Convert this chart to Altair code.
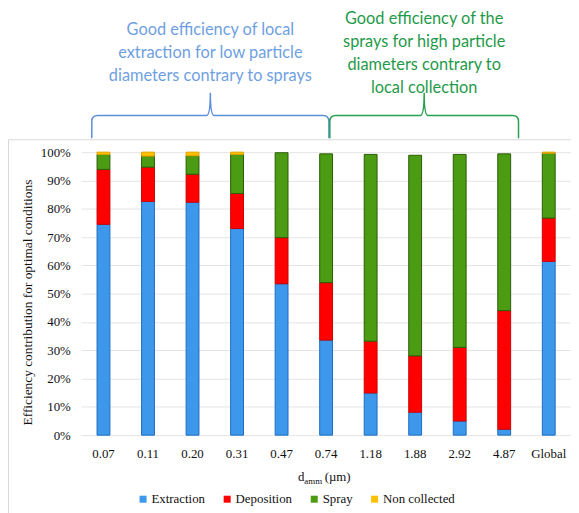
import altair as alt
import pandas as pd

# ---------------- data ----------------
categories = ["0.07", "0.11", "0.20", "0.31", "0.47", "0.74", "1.18", "1.88", "2.92", "4.87", "Global"]
extraction = [74.5, 82.6, 82.3, 73.0, 53.5, 33.6, 14.9, 8.1, 5.0, 2.1, 61.4]
deposition = [19.4, 12.1, 9.9, 12.4, 16.3, 20.3, 18.3, 19.9, 26.0, 41.9, 15.3]
spray = [5.3, 3.9, 6.5, 13.8, 30.0, 45.5, 66.0, 70.9, 68.2, 55.4, 22.9]
non_collected = [0.8, 1.4, 1.3, 0.8, 0.0, 0.0, 0.0, 0.0, 0.0, 0.0, 0.4]

series_names = ["Extraction", "Deposition", "Spray", "Non collected"]
y_ticks = [0, 10, 20, 30, 40, 50, 60, 70, 80, 90, 100]

annot_blue = ["Good efficiency of local", "extraction for low particle", "diameters contrary to sprays"]
annot_green = ["Good efficiency of the", "sprays for high particle", "diameters contrary to", "local collection"]

y_title = "Efficiency contribution for optimal conditions"

# ---------------- styles ----------------
fill_colors = ["#3d98eb", "#ff0000", "#4b9c12", "#ffc000"]
edge_colors = ["#1d6cc0", "#cc0000", "#2b5c08", "#e0a000"]
BLUE_TXT = "#6f9fe3"
BLUE_BR = "#5b8fdc"
GREEN_TXT = "#1f9a4a"
GREEN_BR = "#27a04f"
SERIF = "Liberation Serif"
SANS = "Lato"

rows = []
for i, c in enumerate(categories):
    for k, vals in enumerate([extraction, deposition, spray, non_collected]):
        if vals[i] > 0:
            rows.append({"d": c, "series": series_names[k], "ord": k, "value": vals[i]})
df = pd.DataFrame(rows)

one = alt.Data(values=[{"a": 1}])


def brace_path(width_px, drop=23.0, rise=23.0, r=6.0, tip=4.0):
    u = width_px / 2.0
    d, h, rr, t = drop / u, rise / u, r / u, tip / u
    f = lambda v: f"{v:.4f}"
    return (f"M -1 {f(d)} L -1 {f(rr)} Q -1 0 {f(-1 + rr)} 0 L {f(-t)} 0 "
            f"Q 0 0 0 {f(-h)} Q 0 0 {f(t)} 0 L {f(1 - rr)} 0 Q 1 0 1 {f(rr)} L 1 {f(d)}")


bars = alt.Chart(df).mark_bar(size=13, strokeWidth=1).encode(
    x=alt.X("d:N", sort=categories,
            scale=alt.Scale(paddingInner=0, paddingOuter=0),
            axis=alt.Axis(title=None, labelAngle=0, labelFont=SERIF, labelFontSize=13,
                          labelColor="#111111", labelPadding=13, ticks=False,
                          domain=False, grid=False)),
    y=alt.Y("value:Q", stack="zero",
            scale=alt.Scale(domain=[0, 100], nice=False),
            axis=alt.Axis(values=y_ticks, labelExpr="datum.value + '%'",
                          labelFont=SERIF, labelFontSize=13, labelColor="#111111",
                          labelPadding=11, ticks=False, domain=False,
                          grid=True, gridColor="#e4e4e4", gridWidth=1,
                          title=y_title, titleFont=SERIF, titleFontSize=13.5,
                          titleFontWeight="normal", titleColor="#111111",
                          titleX=-54, titleY=151.5, titleAngle=270,
                          titleAlign="center", titleBaseline="middle")),
    color=alt.Color("series:N",
                    scale=alt.Scale(domain=series_names, range=fill_colors),
                    legend=alt.Legend(title=None, orient="none", legendX=56, legendY=344,
                                      direction="horizontal", symbolType="square",
                                      symbolSize=50, labelFont=SERIF, labelFontSize=13,
                                      labelColor="#111111", columnPadding=15,
                                      labelOffset=2, symbolStrokeWidth=0)),
    stroke=alt.Stroke("series:N",
                      scale=alt.Scale(domain=series_names, range=edge_colors),
                      legend=None),
    order=alt.Order("ord:Q", sort="ascending"),
)

# chart-area border (top and left edges)
border_top = alt.Chart(one).mark_rule(color="#d9d9d9", strokeWidth=1).encode(
    x=alt.value(-73.5), x2=alt.value(500), y=alt.value(-12.5))
border_left = alt.Chart(one).mark_rule(color="#d9d9d9", strokeWidth=1).encode(
    x=alt.value(-73.5), y=alt.value(-12.5), y2=alt.value(370))

# annotations (y = centre of first line)
txt_blue = alt.Chart(one).mark_text(font=SANS, fontSize=16.5, lineHeight=23, align="center",
                                    baseline="middle", color=BLUE_TXT).encode(
    x=alt.value(130.5), y=alt.value(-123.3), text=alt.value(annot_blue))
txt_green = alt.Chart(one).mark_text(font=SANS, fontSize=16.5, lineHeight=23.3, align="center",
                                     baseline="middle", color=GREEN_TXT).encode(
    x=alt.value(346.6), y=alt.value(-134.4), text=alt.value(annot_green))

blue_w = 239.6
green_w = 190.7
brace_blue = alt.Chart(one).mark_point(shape=brace_path(blue_w), filled=False, size=blue_w ** 2,
                                       strokeWidth=1.5, color=BLUE_BR, opacity=1).encode(
    x=alt.value(130.5), y=alt.value(-37))
brace_green = alt.Chart(one).mark_point(shape=brace_path(green_w), filled=False, size=green_w ** 2,
                                        strokeWidth=1.5, color=GREEN_BR, opacity=1).encode(
    x=alt.value(346.6), y=alt.value(-37))

# x-axis title with subscript
xt_d = alt.Chart(one).mark_text(font=SERIF, fontSize=13, align="left", baseline="alphabetic",
                                color="#111111").encode(
    x=alt.value(219), y=alt.value(332), text=alt.value("d"))
xt_sub = alt.Chart(one).mark_text(font=SERIF, fontSize=9, align="left", baseline="alphabetic",
                                  color="#111111").encode(
    x=alt.value(225.5), y=alt.value(335.5), text=alt.value("amm"))
xt_unit = alt.Chart(one).mark_text(font=SERIF, fontSize=13, align="left", baseline="alphabetic",
                                   color="#111111").encode(
    x=alt.value(246), y=alt.value(332), text=alt.value("(\u00b5m)"))

chart = alt.layer(
    border_top, border_left, bars, txt_blue, txt_green, brace_blue, brace_green,
    xt_d, xt_sub, xt_unit
).properties(
    width=495, height=286,
    padding={"left": 74, "top": 143, "right": 0, "bottom": 76},
    autosize=alt.AutoSizeParams(type="none"),
    background="white",
).configure_view(stroke=None)

chart.save("out.html", embed_options={"renderer": "svg", "actions": False})
